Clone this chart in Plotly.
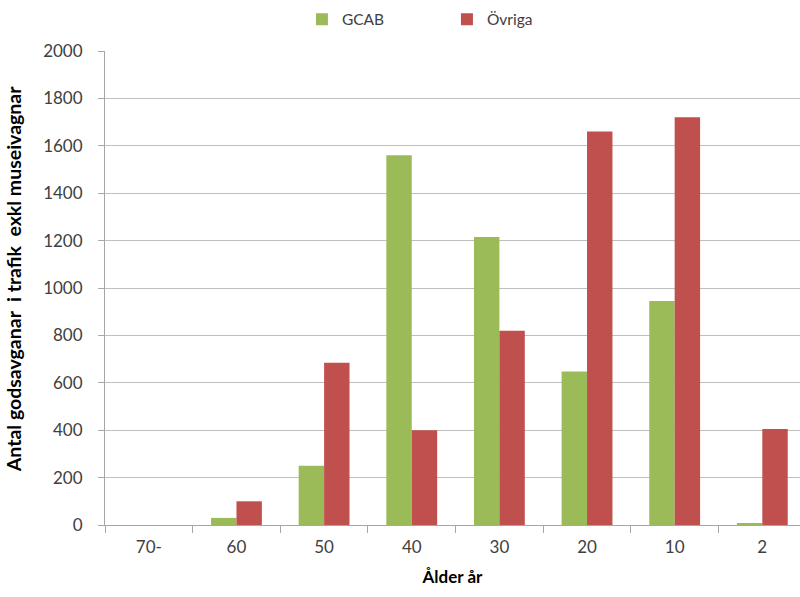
import plotly.graph_objects as go

categories = ["70-", "60", "50", "40", "30", "20", "10", "2"]
gcab = [0, 30, 250, 1560, 1215, 648, 945, 5]
ovriga = [0, 100, 685, 400, 820, 1660, 1720, 405]

font_family = "Lato, Liberation Sans, sans-serif"

fig = go.Figure()
fig.add_trace(go.Bar(name="GCAB", x=categories, y=gcab, marker_color="#9BBB59",
                     marker_line_width=0))
fig.add_trace(go.Bar(name="Övriga", x=categories, y=ovriga, marker_color="#C0504D",
                     marker_line_width=0))

fig.update_layout(
    width=800, height=597,
    margin=dict(l=105, r=0, t=51, b=72, autoexpand=False),
    paper_bgcolor="white", plot_bgcolor="white",
    barmode="group", bargap=0.42, bargroupgap=0,
    font=dict(family=font_family, size=17, color="#404040"),
    legend=dict(orientation="h", x=0.492, xanchor="center", y=1.066, yanchor="middle",
                font=dict(size=15.5, color="#404040"), itemwidth=30,
                entrywidth=100),
    xaxis=dict(
        title=dict(text="<b>Ålder år</b>", font=dict(size=17, color="#000000"), standoff=14),
        range=[-0.5, 7.43], tickson="boundaries", ticks="outside", ticklen=7,
        tickcolor="#a6a6a6", showline=True, linecolor="#a6a6a6", linewidth=1,
        tickfont=dict(size=17, color="#404040"), ticklabelstandoff=7,
    ),
    yaxis=dict(
        title=dict(text="<b>&nbsp;&nbsp;&nbsp;&nbsp;Antal godsavganar&nbsp; i trafik&nbsp; exkl museivagnar</b>",
                   font=dict(size=19.5, color="#000000"), standoff=16),
        range=[0, 2000], dtick=200, ticks="outside", ticklen=6, tickcolor="#a6a6a6",
        showline=True, linecolor="#a6a6a6", linewidth=1,
        showgrid=True, gridcolor="#bfbfbf", gridwidth=1,
        zeroline=False, tickfont=dict(size=17, color="#404040"), ticklabelstandoff=12,
    ),
)

fig.write_html("out.html", config={"displayModeBar": False},
               post_script="document.body.style.margin='0';")
